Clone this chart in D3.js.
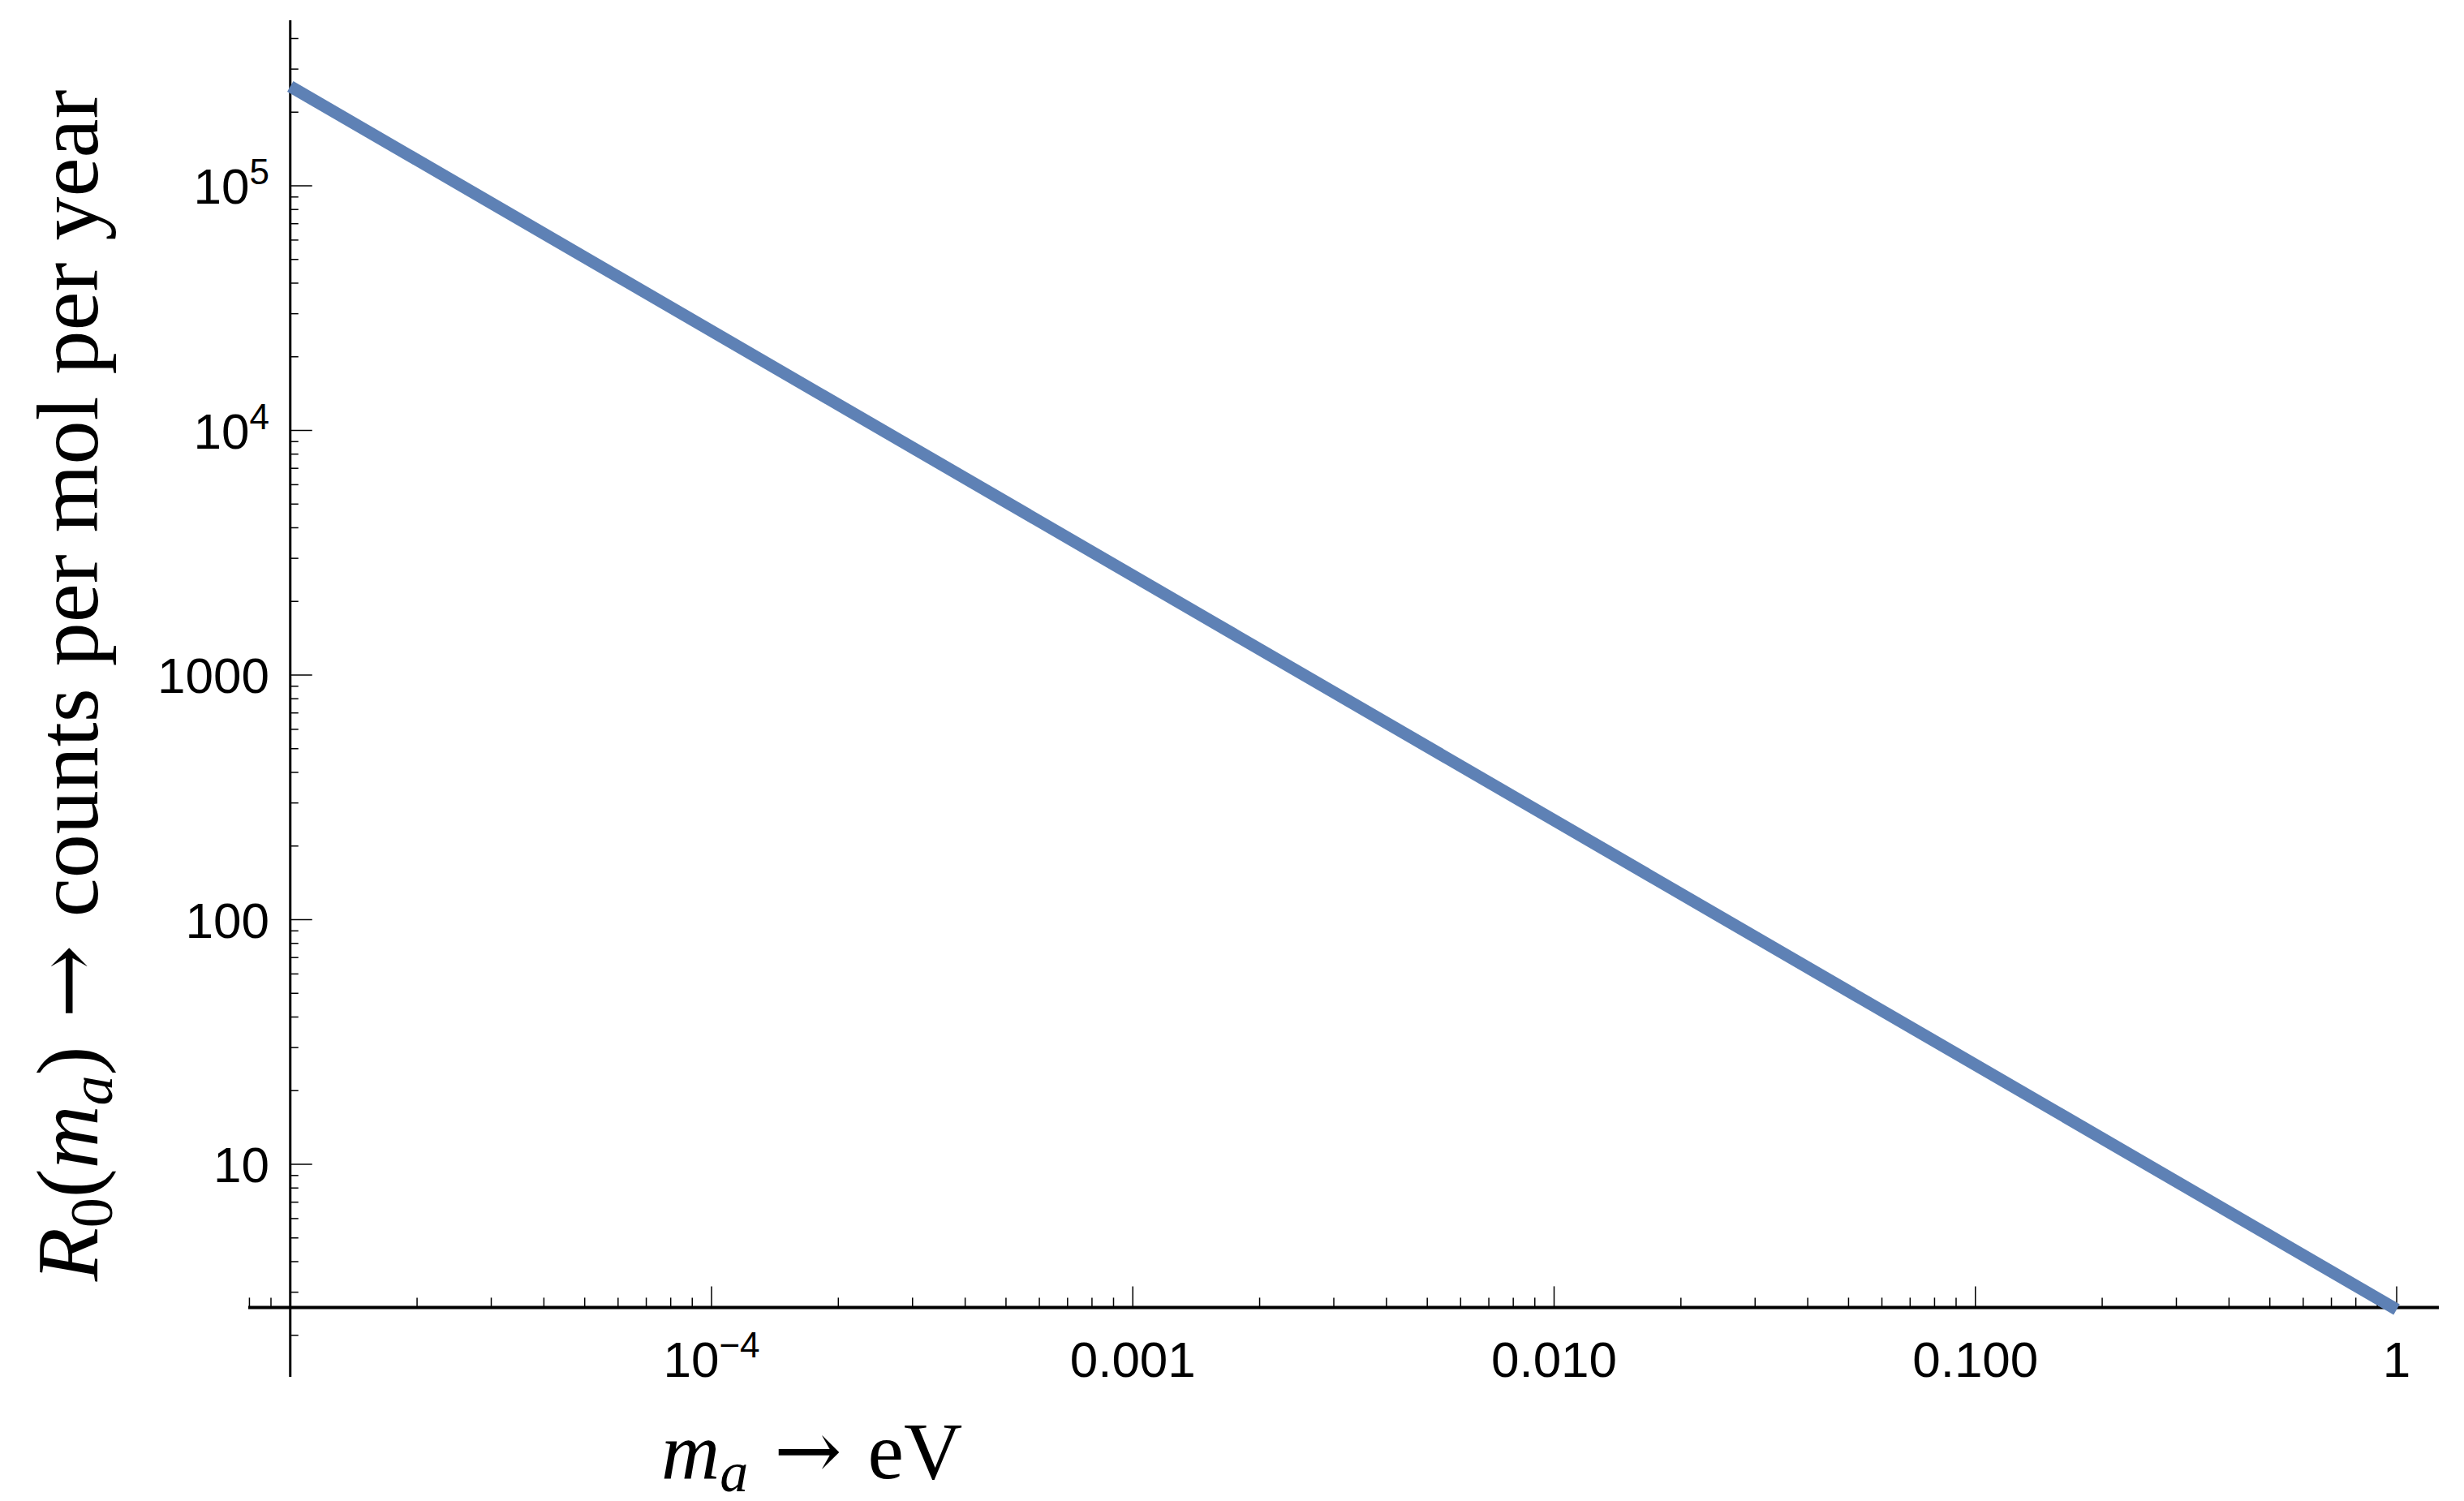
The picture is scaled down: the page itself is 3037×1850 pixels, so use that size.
<!DOCTYPE html>
<html>
<head>
<meta charset="utf-8">
<script src="https://cdn.jsdelivr.net/npm/d3@7"></script>
<style>
  body { margin: 0; background: #fff; }
  .tick-label { font-family: "Liberation Sans", Arial, sans-serif; font-size: 62px; }
  .axis-title { font-family: "Liberation Serif", "DejaVu Serif", serif; }
  .arrow { font-family: "DejaVu Serif", serif; }
</style>
</head>
<body>
<script>
/* Data: R0 ~ 1/m */
var massEV = [1e-5, 1];
var rate = [2.55e5, 2.55];

/* Tick labels */
var xTicks = [1e-4, 1e-3, 1e-2, 1e-1, 1];
var xTickLabels = [['10', '\u22124'], ['0.001'], ['0.010'], ['0.100'], ['1']];
var yTicks = [10, 100, 1000, 1e4, 1e5];
var yTickLabels = [['10'], ['100'], ['1000'], ['10', '4'], ['10', '5']];

var W = 3037, H = 1850;

var svg = d3.select('body').append('svg')
    .attr('width', W).attr('height', H);

/* Log scales calibrated to the reference */
var x = d3.scaleLog().domain([1e-4, 1]).range([877, 2954]);
var y = d3.scaleLog().domain([10, 1e5]).range([1435, 229]);

var xAxisY = y(2.6), yAxisX = x(1e-5);
var xLeft = 306, xRight = 3006, yTop = 25, yBottom = 1697;

/* Minor tick values helper */
function minorTicks(lo, hi) {
    var out = [];
    for (var e = Math.floor(Math.log10(lo)) ; e <= Math.ceil(Math.log10(hi)); e++) {
        for (var k = 1; k < 10; k++) {
            var v = k * Math.pow(10, e);
            if (v >= lo && v <= hi) out.push({v: v, major: k === 1});
        }
    }
    return out;
}

var g = svg.append('g');

/* x ticks (pointing up) */
var xt = minorTicks(x.invert(xLeft), x.invert(xRight));
g.selectAll('.xt').data(xt).enter().append('line')
    .attr('x1', function (d) { return x(d.v); })
    .attr('x2', function (d) { return x(d.v); })
    .attr('y1', xAxisY)
    .attr('y2', function (d) { return xAxisY - (d.major ? 26 : 12); })
    .attr('stroke', '#000').attr('stroke-width', 1.5);

/* y ticks (pointing right) */
var yt = minorTicks(y.invert(yBottom), y.invert(yTop));
g.selectAll('.yt').data(yt).enter().append('line')
    .attr('y1', function (d) { return y(d.v); })
    .attr('y2', function (d) { return y(d.v); })
    .attr('x1', yAxisX)
    .attr('x2', function (d) { return yAxisX + (d.major ? 27 : 10); })
    .attr('stroke', '#000').attr('stroke-width', 1.5);

/* axis lines */
g.append('line').attr('x1', xLeft).attr('x2', xRight)
    .attr('y1', xAxisY).attr('y2', xAxisY)
    .attr('stroke', '#000').attr('stroke-width', 4);
g.append('line').attr('x1', yAxisX).attr('x2', yAxisX)
    .attr('y1', yTop).attr('y2', yBottom)
    .attr('stroke', '#000').attr('stroke-width', 3);

/* tick labels */
function writeLabel(sel, parts) {
    sel.append('tspan').text(parts[0]);
    if (parts[1]) sel.append('tspan').attr('dy', -24).attr('font-size', 44).text(parts[1]);
}
xTicks.forEach(function (v, i) {
    var t = svg.append('text').attr('class', 'tick-label')
        .attr('x', x(v)).attr('y', 1697).attr('text-anchor', 'middle');
    writeLabel(t, xTickLabels[i]);
});
yTicks.forEach(function (v, i) {
    var t = svg.append('text').attr('class', 'tick-label')
        .attr('x', 332).attr('y', y(v) + 22).attr('text-anchor', 'end');
    writeLabel(t, yTickLabels[i]);
});

/* the curve */
var line = d3.line()
    .x(function (d) { return x(d[0]); })
    .y(function (d) { return y(d[1]); });
svg.append('path')
    .datum(d3.zip(massEV, rate))
    .attr('d', line)
    .attr('fill', 'none')
    .attr('stroke', '#5e81b5')
    .attr('stroke-width', 15);

/* axis titles */
var xt2 = svg.append('text').attr('class', 'axis-title')
    .attr('x', 815).attr('y', 1822).attr('font-size', 100);
xt2.append('tspan').attr('font-style', 'italic').text('m');
xt2.append('tspan').attr('font-style', 'italic').attr('font-size', 70).attr('dy', 16).text('a');
xt2.append('tspan').attr('class', 'arrow').attr('dy', -16).text(' \u2192 ');
xt2.append('tspan').text('eV');

var yt2 = svg.append('text').attr('class', 'axis-title')
    .attr('transform', 'translate(120,' + 845 + ') rotate(-90)')
    .attr('text-anchor', 'middle').attr('font-size', 108);
yt2.append('tspan').attr('font-style', 'italic').text('R');
yt2.append('tspan').attr('font-size', 74).attr('dy', 18).text('0');
yt2.append('tspan').attr('dy', -18).text('(');
yt2.append('tspan').attr('font-style', 'italic').text('m');
yt2.append('tspan').attr('font-style', 'italic').attr('font-size', 74).attr('dy', 18).text('a');
yt2.append('tspan').attr('dy', -18).text(')');
yt2.append('tspan').attr('class', 'arrow').text(' \u2192 ');
yt2.append('tspan').text('counts per mol per year');
</script>
</body>
</html>
